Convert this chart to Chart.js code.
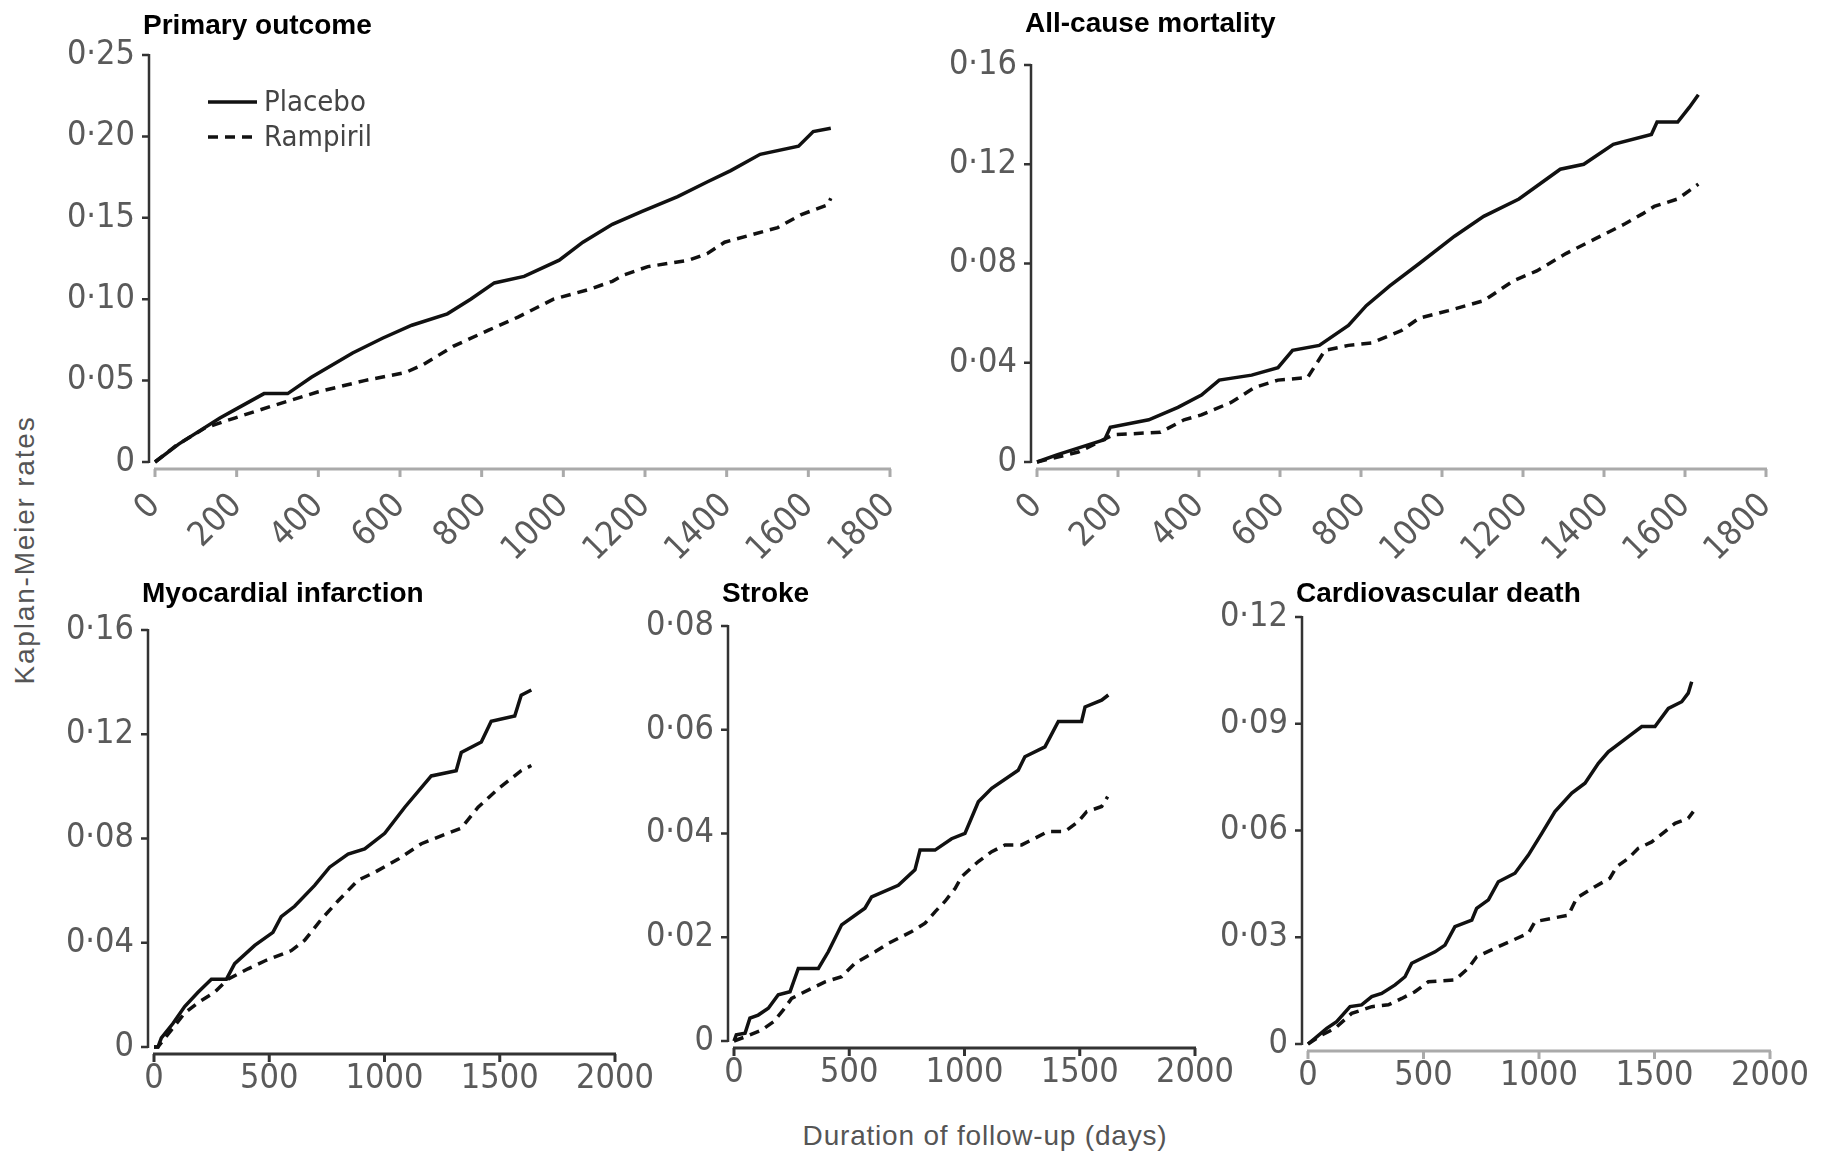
<!DOCTYPE html>
<html lang="en">

  <head>
    <meta charset="UTF-8">
    <title>Kaplan-Meier rates</title>
    <script src="https://cdn.jsdelivr.net/npm/chart.js@4.4.1/dist/chart.umd.min.js"></script>
    <style>
      body {
        margin: 0;
        background: #fff;
        width: 1822px;
        height: 1153px;
        position: relative;
        overflow: hidden;
        font-family: 'Liberation Sans', Arial, sans-serif;
      }
      canvas { position: absolute; }
      .axisLabel {
        position: absolute;
        color: #555;
        font-size: 28px;
        white-space: nowrap;
      }
      #yLabel {
        left: 25px;
        top: 550px;
        letter-spacing: 1.8px;
        transform: translate(-50%, -50%) rotate(-90deg);
      }
      #xLabel {
        left: 985px;
        top: 1136px;
        letter-spacing: 0.8px;
        transform: translate(-50%, -50%);
      }
    </style>
  </head>

  <body>
    <div id="yLabel" class="axisLabel">Kaplan-Meier rates</div>
    <div id="xLabel" class="axisLabel">Duration of follow-up (days)</div>
    <canvas id="primary"></canvas>
    <canvas id="mortality"></canvas>
    <canvas id="infarction"></canvas>
    <canvas id="stroke"></canvas>
    <canvas id="cvDeath"></canvas>

    <script>
      const seriesNames = ['Placebo', 'Rampiril']

      const xTicksTop = [0, 200, 400, 600, 800, 1000, 1200, 1400, 1600, 1800]
      const xTicksBottom = [0, 500, 1000, 1500, 2000]
      const yTicksPrimary = [0, 0.05, 0.10, 0.15, 0.20, 0.25]
      const yTicksMortality = [0, 0.04, 0.08, 0.12, 0.16]
      const yTicksInfarction = [0, 0.04, 0.08, 0.12, 0.16]
      const yTicksStroke = [0, 0.02, 0.04, 0.06, 0.08]
      const yTicksCvDeath = [0, 0.03, 0.06, 0.09, 0.12]

      // primary outcome
      const primaryPlaceboDays = [0, 58, 159, 195, 267, 325, 383, 484, 557, 629, 716, 773, 831, 904, 990, 1048, 1120, 1193, 1280, 1352, 1410, 1482, 1576, 1612, 1655]
      const primaryPlaceboRates = [0, 0.011, 0.027, 0.032, 0.042, 0.042, 0.052, 0.067, 0.076, 0.084, 0.091, 0.100, 0.110, 0.114, 0.124, 0.135, 0.146, 0.154, 0.163, 0.172, 0.179, 0.189, 0.194, 0.203, 0.205]
      const primaryRampirilDays = [0, 51, 123, 195, 282, 398, 513, 614, 658, 730, 817, 889, 976, 1063, 1120, 1149, 1207, 1308, 1352, 1395, 1453, 1525, 1583, 1648, 1655]
      const primaryRampirilRates = [0, 0.010, 0.021, 0.027, 0.034, 0.043, 0.050, 0.055, 0.060, 0.071, 0.081, 0.089, 0.100, 0.106, 0.111, 0.115, 0.120, 0.124, 0.128, 0.135, 0.139, 0.144, 0.152, 0.158, 0.162]

      // all-cause mortality
      const mortalityPlaceboDays = [0, 51, 167, 181, 276, 348, 406, 450, 530, 595, 631, 697, 769, 813, 871, 944, 1031, 1103, 1190, 1292, 1350, 1423, 1517, 1531, 1582, 1611, 1633]
      const mortalityPlaceboRates = [0, 0.003, 0.009, 0.014, 0.017, 0.022, 0.027, 0.033, 0.035, 0.038, 0.045, 0.047, 0.055, 0.063, 0.071, 0.080, 0.091, 0.099, 0.106, 0.118, 0.120, 0.128, 0.132, 0.137, 0.137, 0.143, 0.148]
      const mortalityRampirilDays = [0, 102, 189, 305, 363, 406, 479, 537, 595, 668, 711, 769, 827, 900, 944, 1016, 1103, 1176, 1234, 1306, 1379, 1452, 1495, 1524, 1582, 1633]
      const mortalityRampirilRates = [0, 0.004, 0.011, 0.012, 0.017, 0.019, 0.024, 0.030, 0.033, 0.034, 0.045, 0.047, 0.048, 0.053, 0.058, 0.061, 0.065, 0.073, 0.077, 0.084, 0.090, 0.096, 0.100, 0.103, 0.106, 0.112]

      // myocardial infarction
      const infarctionPlaceboDays = [0, 17, 32, 82, 133, 191, 249, 314, 350, 437, 516, 552, 610, 697, 762, 842, 914, 1001, 1088, 1203, 1311, 1333, 1420, 1463, 1565, 1593, 1637]
      const infarctionPlaceboRates = [0, 0, 0.0035, 0.009, 0.0155, 0.021, 0.026, 0.026, 0.032, 0.039, 0.044, 0.050, 0.054, 0.062, 0.069, 0.074, 0.076, 0.082, 0.092, 0.104, 0.106, 0.113, 0.117, 0.125, 0.127, 0.135, 0.137]
      const infarctionRampirilDays = [0, 17, 75, 133, 191, 263, 321, 408, 480, 596, 654, 726, 798, 885, 957, 1058, 1160, 1246, 1333, 1406, 1492, 1550, 1593, 1637]
      const infarctionRampirilRates = [0, 0, 0.0065, 0.013, 0.017, 0.021, 0.026, 0.030, 0.033, 0.037, 0.041, 0.049, 0.056, 0.064, 0.067, 0.072, 0.078, 0.081, 0.084, 0.092, 0.099, 0.103, 0.106, 0.108]

      // stroke
      const strokePlaceboDays = [0, 10, 48, 69, 105, 149, 192, 243, 279, 366, 409, 467, 568, 597, 713, 785, 807, 872, 944, 1002, 1060, 1118, 1233, 1262, 1349, 1407, 1508, 1523, 1595, 1624]
      const strokePlaceboRates = [0, 0.0012, 0.0015, 0.0044, 0.005, 0.0063, 0.0089, 0.0095, 0.014, 0.014, 0.0172, 0.0224, 0.0256, 0.0278, 0.030, 0.033, 0.0368, 0.0368, 0.039, 0.040, 0.0461, 0.0487, 0.0522, 0.0548, 0.0567, 0.0616, 0.0616, 0.0644, 0.0657, 0.0667]
      const strokeRampirilDays = [0, 48, 120, 171, 214, 250, 294, 395, 467, 525, 612, 669, 771, 829, 872, 915, 959, 988, 1060, 1118, 1176, 1248, 1306, 1363, 1436, 1494, 1530, 1595, 1621]
      const strokeRampirilRates = [0, 0.0008, 0.0021, 0.0037, 0.006, 0.0082, 0.0092, 0.0114, 0.0124, 0.015, 0.0172, 0.0188, 0.0211, 0.0227, 0.0249, 0.0269, 0.0294, 0.0317, 0.0346, 0.0365, 0.0378, 0.0378, 0.0391, 0.0404, 0.0404, 0.0423, 0.0442, 0.0452, 0.0471]

      // cardiovascular death
      const cvDeathPlaceboDays = [0, 30, 81, 124, 182, 232, 276, 319, 377, 420, 449, 550, 593, 636, 709, 730, 781, 824, 896, 954, 1012, 1069, 1142, 1199, 1257, 1300, 1387, 1445, 1502, 1560, 1618, 1646, 1661]
      const cvDeathPlaceboRates = [0, 0.0016, 0.0044, 0.0063, 0.0105, 0.011, 0.0133, 0.0142, 0.0166, 0.0189, 0.0227, 0.0259, 0.0278, 0.033, 0.0348, 0.0381, 0.0405, 0.0456, 0.048, 0.0531, 0.0592, 0.0653, 0.0705, 0.0733, 0.0789, 0.0821, 0.0864, 0.0892, 0.0892, 0.0943, 0.0962, 0.0986, 0.1018]
      const cvDeathRampirilDays = [0, 59, 117, 189, 276, 348, 406, 463, 521, 636, 694, 730, 839, 954, 983, 1127, 1163, 1242, 1307, 1336, 1387, 1430, 1488, 1545, 1589, 1646, 1668]
      const cvDeathRampirilRates = [0, 0.0025, 0.0044, 0.0086, 0.0105, 0.011, 0.0128, 0.0147, 0.0175, 0.018, 0.0213, 0.0245, 0.0278, 0.0311, 0.0344, 0.0362, 0.041, 0.0442, 0.0466, 0.0498, 0.0522, 0.055, 0.0568, 0.0597, 0.062, 0.0634, 0.0653]

      const NARROW = "'Liberation Sans Narrow', 'Arial Narrow', 'DejaVu Sans Condensed', sans-serif"
      const BOLD = "'Liberation Sans', Arial, sans-serif"
      const TICK_COLOR = '#5a5a5a'
      const PAD_LEFT = 130
      const PAD_TOP = 60
      const PAD_RIGHT = 60

      const fmtRate = v => v === 0 ? '0' : v.toFixed(2).replace('.', '·')
      const toPoints = (days, rates) => days.map((d, i) => ({ x: d, y: rates[i] }))

      // GraphPad-style detached axes, panel title and (optional) legend
      const axesPlugin = {
        id: 'axesPlugin',
        afterDraw(chart, args, o) {
          const { ctx, chartArea: a } = chart
          const { x, y } = chart.scales
          const gap = 6
          ctx.save()

          // y axis
          const ax = a.left - gap
          ctx.strokeStyle = '#333'
          ctx.lineWidth = 2.5
          ctx.beginPath()
          ctx.moveTo(ax, y.getPixelForValue(y.max) - 1)
          ctx.lineTo(ax, y.getPixelForValue(0) + 1)
          for (const t of y.ticks) {
            const py = y.getPixelForValue(t.value)
            ctx.moveTo(ax - 7, py)
            ctx.lineTo(ax, py)
          }
          ctx.stroke()

          // x axis
          const ay = a.bottom + gap + 1
          ctx.strokeStyle = o.xColor
          ctx.lineWidth = 3
          ctx.beginPath()
          ctx.moveTo(x.getPixelForValue(0) - 1, ay)
          ctx.lineTo(x.getPixelForValue(x.max) + 1, ay)
          for (const t of x.ticks) {
            const px = x.getPixelForValue(t.value)
            ctx.moveTo(px, ay)
            ctx.lineTo(px, ay + 8)
          }
          ctx.stroke()

          // title
          ctx.fillStyle = '#000'
          ctx.font = `bold 28px ${BOLD}`
          ctx.textBaseline = 'alphabetic'
          ctx.textAlign = 'left'
          ctx.fillText(o.title, a.left - 12, o.titleY)

          // legend
          if (o.legend) {
            ctx.font = `29px ${NARROW}`
            ctx.fillStyle = '#444'
            ctx.textBaseline = 'middle'
            chart.data.datasets.forEach((ds, i) => {
              const ly = o.legend.y + i * 35
              ctx.strokeStyle = '#111'
              ctx.lineWidth = 3.5
              ctx.setLineDash(ds.borderDash || [])
              ctx.beginPath()
              ctx.moveTo(o.legend.x, ly)
              ctx.lineTo(o.legend.x + 49, ly)
              ctx.stroke()
              ctx.setLineDash([])
              ctx.fillText(ds.label, o.legend.x + 56, ly + 1)
            })
          }
          ctx.restore()
        }
      }

      function makePanel(p) {
        const canvas = document.getElementById(p.id)
        const [L, T, R, B] = p.area
        const left = L - PAD_LEFT
        const top = T - PAD_TOP
        canvas.width = R - L + PAD_LEFT + PAD_RIGHT
        canvas.height = B - T + PAD_TOP + p.xHeight
        canvas.style.left = left + 'px'
        canvas.style.top = top + 'px'

        const tickFont = { family: NARROW, size: 34 }
        return new Chart(canvas, {
          type: 'line',
          data: {
            datasets: [
              {
                label: seriesNames[0],
                data: toPoints(p.placebo[0], p.placebo[1]),
                borderColor: '#111',
                borderWidth: 3.5,
                pointRadius: 0,
                tension: 0,
                clip: 8,
              },
              {
                label: seriesNames[1],
                data: toPoints(p.rampiril[0], p.rampiril[1]),
                borderColor: '#111',
                borderWidth: 3.5,
                borderDash: [10, 7],
                pointRadius: 0,
                tension: 0,
                clip: 8,
              },
            ],
          },
          options: {
            responsive: false,
            animation: false,
            events: [],
            layout: { padding: { left: 0, top: PAD_TOP, right: PAD_RIGHT, bottom: 0 } },
            plugins: {
              legend: { display: false },
              tooltip: { enabled: false },
              axesPlugin: {
                title: p.title,
                titleY: p.titleBase - top,
                xColor: p.xColor,
                legend: p.legend ? { x: p.legend.x - left, y: p.legend.y - top } : null,
              },
            },
            scales: {
              x: {
                type: 'linear',
                min: 0,
                max: p.xTicks[p.xTicks.length - 1],
                grid: { display: false, drawTicks: false },
                border: { display: false },
                afterBuildTicks: s => { s.ticks = p.xTicks.map(v => ({ value: v })) },
                afterFit: s => { s.height = p.xHeight },
                ticks: {
                  autoSkip: false,
                  minRotation: p.rotation,
                  maxRotation: p.rotation,
                  padding: p.xPad,
                  color: TICK_COLOR,
                  font: tickFont,
                  callback: v => String(v),
                },
              },
              y: {
                min: 0,
                max: p.yTicks[p.yTicks.length - 1],
                grid: { display: false, drawTicks: false },
                border: { display: false },
                afterBuildTicks: s => { s.ticks = p.yTicks.map(v => ({ value: v })) },
                afterFit: s => { s.width = PAD_LEFT },
                ticks: {
                  padding: 20,
                  color: TICK_COLOR,
                  font: tickFont,
                  callback: fmtRate,
                },
              },
            },
          },
          plugins: [axesPlugin],
        })
      }

      makePanel({
        id: 'primary', title: 'Primary outcome', titleBase: 34,
        area: [155, 55, 890, 462], xTicks: xTicksTop, yTicks: yTicksPrimary,
        rotation: 45, xPad: 24, xHeight: 110, xColor: '#aaa',
        placebo: [primaryPlaceboDays, primaryPlaceboRates],
        rampiril: [primaryRampirilDays, primaryRampirilRates],
        legend: { x: 208, y: 102 },
      })
      makePanel({
        id: 'mortality', title: 'All-cause mortality', titleBase: 32,
        area: [1037, 65, 1766, 462], xTicks: xTicksTop, yTicks: yTicksMortality,
        rotation: 45, xPad: 24, xHeight: 110, xColor: '#aaa',
        placebo: [mortalityPlaceboDays, mortalityPlaceboRates],
        rampiril: [mortalityRampirilDays, mortalityRampirilRates],
      })
      makePanel({
        id: 'infarction', title: 'Myocardial infarction', titleBase: 602,
        area: [154, 630, 615, 1047], xTicks: xTicksBottom, yTicks: yTicksInfarction,
        rotation: 0, xPad: 12, xHeight: 70, xColor: '#333',
        placebo: [infarctionPlaceboDays, infarctionPlaceboRates],
        rampiril: [infarctionRampirilDays, infarctionRampirilRates],
      })
      makePanel({
        id: 'stroke', title: 'Stroke', titleBase: 602,
        area: [734, 626, 1195, 1041], xTicks: xTicksBottom, yTicks: yTicksStroke,
        rotation: 0, xPad: 12, xHeight: 70, xColor: '#333',
        placebo: [strokePlaceboDays, strokePlaceboRates],
        rampiril: [strokeRampirilDays, strokeRampirilRates],
      })
      makePanel({
        id: 'cvDeath', title: 'Cardiovascular death', titleBase: 602,
        area: [1308, 617, 1770, 1044], xTicks: xTicksBottom, yTicks: yTicksCvDeath,
        rotation: 0, xPad: 12, xHeight: 70, xColor: '#aaa',
        placebo: [cvDeathPlaceboDays, cvDeathPlaceboRates],
        rampiril: [cvDeathRampirilDays, cvDeathRampirilRates],
      })
    </script>
  </body>

</html>
